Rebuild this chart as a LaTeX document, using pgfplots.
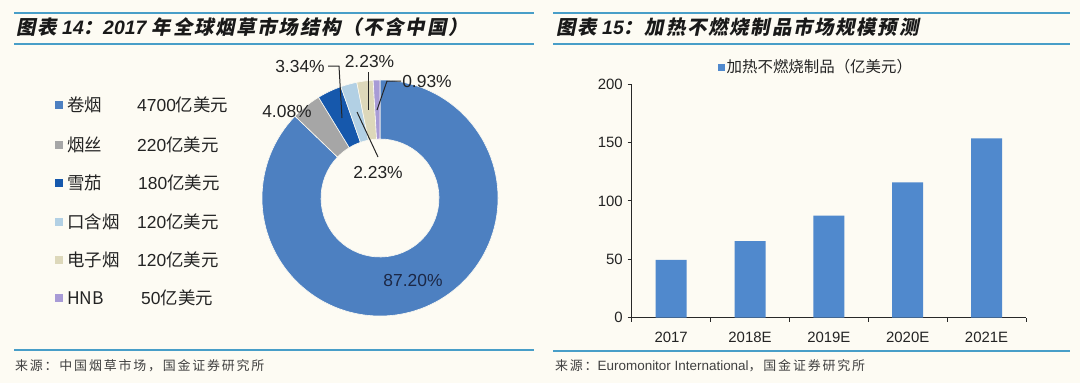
\documentclass[border=0pt]{standalone}
\usepackage{pgfplots}
\pgfplotsset{compat=1.18}
\usepackage{pgfplotstable}
\usepackage{fontspec}
\setmainfont{Liberation Sans}
\newfontfamily\cjk{Noto Sans CJK SC}
\newfontfamily\titlecjk{Noto Sans CJK SC}[FakeSlant=0.2, LetterSpace=9]
\newfontfamily\fang{Noto Sans CJK SC}[LetterSpace=14]

\definecolor{bg}{RGB}{253,251,243}
\definecolor{rulec}{RGB}{72,158,200}
\definecolor{pie0}{RGB}{77,128,193}
\definecolor{pie1}{RGB}{166,166,166}
\definecolor{pie2}{RGB}{22,88,172}
\definecolor{pie3}{RGB}{178,208,228}
\definecolor{pie4}{RGB}{221,216,186}
\definecolor{pie5}{RGB}{168,155,214}
\definecolor{barblue}{RGB}{80,137,205}
\definecolor{txt}{RGB}{35,35,35}
\definecolor{navy}{RGB}{28,40,70}
\definecolor{axisgray}{RGB}{40,40,40}

\pgfplotstableread{
v
4700
220
180
120
120
50
}\pietable

\pgfplotstableread{
x y
0 49.6
1 65.7
2 87.4
3 116.0
4 153.7
}\bartable

\begin{document}
\begin{tikzpicture}
\begin{scope}[x=1bp,y=1bp]
\fill[bg] (0,0) rectangle (1080,383);
% rules
\draw[rulec, line width=1.8bp] (14,370) -- (534,370);
\draw[rulec, line width=1.8bp] (14,339) -- (534,339);
\draw[rulec, line width=1.8bp] (14,33) -- (534,33);
\draw[rulec, line width=1.8bp] (553,370) -- (1070,370);
\draw[rulec, line width=1.8bp] (553,339) -- (1070,339);
\draw[rulec, line width=1.8bp] (553,32) -- (1070,32);
% titles
\node[anchor=west, inner sep=0, text=black!90] at (16,356) {\fontsize{19.5}{22}\selectfont\bfseries{\titlecjk 图表} {\itshape 14}{\titlecjk ：}{\itshape 2017} {\titlecjk 年全球烟草市场结构（不含中国）}};
\node[anchor=west, inner sep=0, text=black!90] at (556,356) {\fontsize{19.5}{22}\selectfont\bfseries{\titlecjk 图表} {\itshape 15}{\titlecjk ：加热不燃烧制品市场规模预测}};
% sources
\node[anchor=west, inner sep=0, text=black!75] at (15,17) {\fontsize{13}{15}\selectfont\fang 来源：中国烟草市场，国金证券研究所};
\node[anchor=west, inner sep=0, text=black!75] at (555,17) {\fontsize{13}{15}\selectfont{\fang 来源：}\fontsize{13.5}{15}\selectfont Euromonitor International{\fontsize{13}{15}\selectfont\fang ，国金证券研究所}};
\end{scope}

% pie total
\gdef\pietotal{0}
\pgfplotstableforeachcolumnelement{v}\of\pietable\as\val{%
  \pgfmathsetmacro\tmp{\pietotal+\val}\global\let\pietotal\tmp}

% donut
\begin{axis}[at={(380bp,185bp)}, anchor=center, x=118bp, y=118bp,
  xmin=-1, xmax=1, ymin=-1, ymax=1, hide axis, clip=false]
\gdef\cum{0}
\pgfplotstableforeachcolumnelement{v}\of\pietable\as\val{%
  \pgfmathsetmacro\aS{90-360*(\cum/\pietotal)}%
  \pgfmathsetmacro\cumnew{\cum+\val}%
  \pgfmathsetmacro\aE{90-360*(\cumnew/\pietotal)}%
  \global\let\cum\cumnew
  \edef\cmd{\noexpand\fill[pie\pgfplotstablerow, draw=bg, line width=0.6bp] ([shift={(\aS:118bp)}]axis cs:0,0) arc[start angle=\aS, end angle=\aE, radius=118bp] -- ([shift={(\aE:59bp)}]axis cs:0,0) arc[start angle=\aE, end angle=\aS, radius=59bp] -- cycle;}%
  \cmd
}
\end{axis}

\begin{scope}[x=1bp,y=1bp]
% pie labels and leaders
\begin{scope}[font=\fontsize{17.5}{20}\selectfont]
\node[text=navy] at (413,103) {87.20\%};
\node[text=txt] at (287,272) {4.08\%};
\node[text=txt] at (300,317) {3.34\%};
\node[text=txt] at (369.5,322) {2.23\%};
\node[text=txt] at (427,302) {0.93\%};
\node[text=txt] at (378,211) {2.23\%};
\end{scope}
\draw[black!85, line width=1bp] (328,317) -- (339,317) -- (342,265);
\draw[black!85, line width=1bp] (368,311) -- (368,273);
\draw[black!85, line width=1bp] (401,302) -- (387,302) -- (377,273);
\draw[black!85, line width=1bp] (378,226) -- (357,271);

% left legend
\begin{scope}[font=\fontsize{17.5}{20}\selectfont, text=txt]
\foreach \yy/\cc/\nm/\vl/\vx in {278/pie0/卷烟/4700/137, 238/pie1/烟丝/220/137, 200/pie2/雪茄/180/138, 161/pie3/口含烟/120/137, 123/pie4/电子烟/120/137, 85/pie5/HNB/50/141}{
  \fill[\cc] (55,\yy-4) rectangle (63,\yy+4);
  \node[anchor=west, inner sep=0] at (67,\yy) {\cjk \nm};
  \node[anchor=west, inner sep=0] at (\vx,\yy) {\vl{\cjk 亿美元}};
}
\end{scope}
\end{scope}

% bar chart
\begin{axis}[at={(631.7bp,65.3bp)}, anchor=south west, scale only axis,
  width=394.3bp, height=233.4bp,
  xmin=-0.5, xmax=4.5, ymin=0, ymax=200,
  axis x line*=bottom, axis y line*=left,
  axis line style={-, draw=axisgray, line width=1bp},
  ybar, bar width=31bp,
  xtick={0,1,2,3,4}, xticklabels={2017,2018E,2019E,2020E,2021E},
  minor xtick={-0.5,0.5,1.5,2.5,3.5,4.5},
  ytick={0,50,100,150,200},
  tick align=outside, major tick length=4bp, minor tick length=4bp,
  major x tick style={draw=none},
  minor x tick style={draw=axisgray, line width=1bp},
  y tick style={draw=axisgray, line width=1bp},
  tick label style={font=\fontsize{15}{18}\selectfont, text=txt},
  xticklabel style={yshift=-7bp},
  yticklabel style={xshift=-1.5bp},
  /pgf/number format/assume math mode=true,
  legend style={at={(0.467,1.074)}, anchor=center, draw=none, fill=none,
    font=\fontsize{15.5}{18}\selectfont, text=txt, inner sep=0pt,
    nodes={inner sep=1.5bp, anchor=west}},
  legend image code/.code={\fill[#1] (0bp,-3.5bp) rectangle (7bp,3.5bp);},
]
\addplot[fill=barblue, draw=none] table[x=x, y=y] {\bartable};
\addlegendentry{\cjk 加热不燃烧制品（亿美元）}
\end{axis}
\end{tikzpicture}
\end{document}
